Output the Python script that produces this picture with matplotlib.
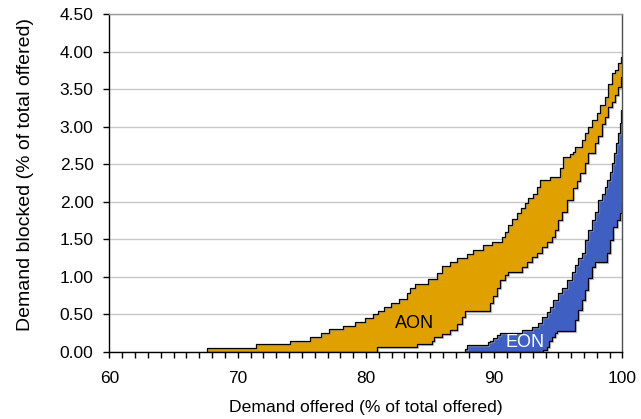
import numpy as np
import matplotlib
matplotlib.use('Agg')
import matplotlib.pyplot as plt
import matplotlib.patheffects as pe
from matplotlib.ticker import MultipleLocator, FormatStrFormatter

plt.rcParams['font.family'] = ['Liberation Sans', 'DejaVu Sans']

# AON band: step breakpoints (demand offered %) and blocked % held from each point
aon_upper_x = [67.63, 71.40, 74.07, 75.63, 76.51, 77.14, 78.23, 79.17, 79.95, 80.52,
               80.91, 81.40, 81.97, 82.57, 83.16, 83.43, 83.82, 84.80, 85.51, 85.90,
               86.55, 87.10, 87.91, 88.37, 89.12, 89.82, 90.58, 90.84, 91.07, 91.36,
               91.75, 92.05, 92.40, 92.65, 93.04, 93.33, 93.57, 94.35, 95.12, 95.36,
               95.91, 96.14, 96.30, 96.84, 97.08, 97.31, 97.62, 98.01, 98.25, 98.64,
               98.87, 99.18, 99.42, 99.65, 99.88]
aon_upper_y = [0.05, 0.10, 0.15, 0.20, 0.25, 0.30, 0.35, 0.40, 0.45, 0.50,
               0.55, 0.60, 0.65, 0.70, 0.78, 0.85, 0.90, 0.97, 1.05, 1.14,
               1.20, 1.25, 1.31, 1.36, 1.42, 1.46, 1.53, 1.60, 1.69, 1.77,
               1.85, 1.92, 1.99, 2.05, 2.11, 2.20, 2.29, 2.33, 2.45, 2.60,
               2.63, 2.66, 2.73, 2.82, 2.91, 3.00, 3.09, 3.18, 3.29, 3.40,
               3.57, 3.71, 3.75, 3.85, 3.93]
aon_lower_x = [67.63, 80.88, 84.00, 85.12, 85.30, 85.90, 86.55, 87.07, 87.46, 87.72,
               89.67, 89.90, 90.21, 90.45, 90.84, 91.07, 92.16, 92.55, 92.94, 93.33,
               93.72, 94.11, 94.50, 94.74, 94.97, 95.28, 95.67, 96.14, 96.45, 96.69,
               97.08, 97.31, 97.86, 98.09, 98.40, 98.64, 98.87, 99.18, 99.42, 99.65,
               99.88]
aon_lower_y = [0.00, 0.06, 0.10, 0.15, 0.20, 0.24, 0.29, 0.37, 0.46, 0.55,
               0.65, 0.75, 0.85, 0.96, 1.03, 1.07, 1.13, 1.20, 1.27, 1.32,
               1.40, 1.47, 1.53, 1.62, 1.76, 1.87, 2.02, 2.18, 2.28, 2.38,
               2.51, 2.65, 2.78, 2.87, 3.04, 3.13, 3.26, 3.33, 3.42, 3.53,
               3.66]

# EON band
eon_upper_x = [87.72, 87.88, 89.51, 89.67, 89.90, 90.21, 90.45, 92.16, 92.94, 93.40,
               93.72, 94.11, 94.35, 94.58, 94.97, 95.28, 95.67, 96.06, 96.30, 96.53,
               96.84, 97.08, 97.31, 97.62, 97.86, 98.09, 98.40, 98.64, 98.79, 99.03,
               99.18, 99.34, 99.49, 99.65, 99.80, 99.92]
eon_upper_y = [0.04, 0.09, 0.13, 0.14, 0.18, 0.23, 0.25, 0.29, 0.33, 0.38,
               0.46, 0.53, 0.60, 0.69, 0.78, 0.85, 0.96, 1.07, 1.16, 1.25,
               1.32, 1.49, 1.62, 1.76, 1.87, 2.02, 2.11, 2.20, 2.29, 2.40,
               2.51, 2.65, 2.78, 2.92, 3.05, 3.22]
eon_lower_x = [87.72, 93.80, 94.11, 94.27, 94.50, 94.74, 94.90, 96.30, 96.53, 96.84,
               97.08, 97.31, 97.62, 97.86, 98.79, 99.03, 99.26, 99.57, 99.80, 99.96]
eon_lower_y = [0.00, 0.03, 0.07, 0.14, 0.20, 0.25, 0.28, 0.43, 0.56, 0.69,
               0.83, 0.98, 1.13, 1.20, 1.32, 1.49, 1.66, 1.76, 1.85, 1.98]

x_end = 100.0


def step_at(xb, yb, xq):
    idx = np.searchsorted(xb, xq, side='right') - 1
    vals = np.asarray(yb)[np.clip(idx, 0, len(yb) - 1)]
    return np.where(idx >= 0, vals, 0.0)


fig = plt.figure(figsize=(6.41, 4.19), dpi=100)
ax = fig.add_axes([0.1708, 0.1599, 0.8003, 0.8067])

edge_fx = [pe.SimpleLineShadow(offset=(0.7, -0.7), shadow_color='#999999', alpha=0.6),
           pe.Normal()]

for ux, uy, lx, ly, colour in ((aon_upper_x, aon_upper_y, aon_lower_x, aon_lower_y, '#E0A000'),
                               (eon_upper_x, eon_upper_y, eon_lower_x, eon_lower_y, '#3F60C2')):
    grid = np.union1d(np.union1d(ux, lx), [x_end])
    hi = step_at(ux, uy, grid)
    lo = step_at(lx, ly, grid)
    ax.fill_between(grid, lo, hi, step='post', color=colour, linewidth=0, zorder=2)
    gx = np.concatenate([[grid[0]], grid])
    ax.step(gx, np.concatenate([[0.0], hi]), where='post', color='black', lw=0.9,
            zorder=3, path_effects=edge_fx)
    ax.step(gx, np.concatenate([[0.0], lo]), where='post', color='black', lw=0.9,
            zorder=3, path_effects=edge_fx)

ax.text(83.82, 0.315, 'AON', fontsize=13, ha='center', va='baseline', color='black', zorder=4)
ax.text(92.40, 0.07, 'EON', fontsize=13, ha='center', va='baseline', color='white', zorder=4)

ax.set_xlim(60, 100)
ax.set_ylim(0, 4.5)
ax.xaxis.set_major_locator(MultipleLocator(10))
ax.xaxis.set_minor_locator(MultipleLocator(1))
ax.yaxis.set_major_locator(MultipleLocator(0.5))
ax.yaxis.set_major_formatter(FormatStrFormatter('%.2f'))
ax.tick_params(axis='x', which='both', direction='out', length=4, width=1, color='black',
               labelsize=12.5, pad=10)
ax.tick_params(axis='y', which='major', direction='out', length=4, width=1, color='black',
               labelsize=12.5, pad=7.5)
ax.grid(axis='y', color='#C8C8C8', lw=1)
ax.set_axisbelow(True)

ax.spines['left'].set_color('black')
ax.spines['bottom'].set_color('black')
ax.spines['top'].set_color('#999999')
ax.spines['right'].set_color('#505050')
for s in ax.spines.values():
    s.set_linewidth(1)
    s.set_zorder(5)

ax.set_xlabel('Demand offered (% of total offered)', fontsize=12.6)
ax.set_ylabel('Demand blocked (% of total offered)', fontsize=14)
ax.xaxis.set_label_coords(0.5, -0.142)
ax.yaxis.set_label_coords(-0.148, 0.525)

fig.savefig('out.png', dpi=100)
